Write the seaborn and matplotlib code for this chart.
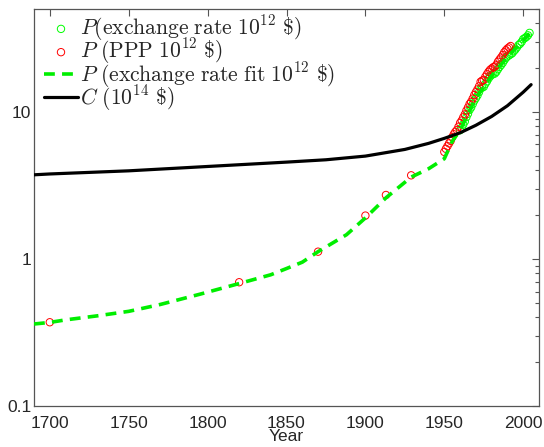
import numpy as np
import pandas as pd
import matplotlib
matplotlib.use("Agg")
import matplotlib.pyplot as plt
import seaborn as sns
from matplotlib.ticker import FixedLocator, LogLocator, NullFormatter

# --- data -------------------------------------------------------------
# Historical output, PPP (10^12 $)
ppp_hist_years = [1700, 1820, 1870, 1900, 1913, 1929]
ppp_hist_vals = [0.371, 0.694, 1.12, 1.97, 2.72, 3.70]

# Annual output, PPP (10^12 $)
ppp_years = list(range(1950, 1993))
ppp_vals = [5.34, 5.60, 5.84, 6.10, 6.34, 6.72, 7.04, 7.32, 7.52, 7.92,
            8.40, 8.72, 9.17, 9.60, 10.2, 10.7, 11.3, 11.7, 12.3, 13.0,
            13.6, 14.2, 14.9, 16.0, 16.3, 16.5, 17.3, 18.0, 18.7, 19.3,
            19.7, 20.1, 20.3, 20.9, 21.9, 22.7, 23.4, 24.3, 25.4, 26.2,
            26.9, 27.4, 28.0]

# Annual output at exchange rates (10^12 $)
er_years = list(range(1960, 2005))
er_vals = [7.5, 7.8, 8.2, 8.6, 9.2, 9.7, 10.3, 10.7, 11.3, 11.9,
           12.4, 12.9, 13.6, 14.4, 14.6, 14.8, 15.5, 16.1, 16.8, 17.4,
           17.8, 18.1, 18.2, 18.7, 19.5, 20.2, 20.8, 21.5, 22.4, 23.2,
           23.8, 24.2, 24.6, 25.0, 25.8, 26.5, 27.4, 28.4, 29.0, 29.9,
           31.2, 31.7, 32.3, 33.1, 34.4]

# Exchange-rate fit (10^12 $)
fit_years = [1690, 1700, 1710, 1730, 1750, 1770, 1795, 1820, 1840, 1850,
             1860, 1870, 1888, 1900, 1913, 1929, 1940, 1950, 1955, 1960,
             1970, 1980, 1990, 2000, 2004]
fit_vals = [0.361, 0.37, 0.385, 0.41, 0.44, 0.49, 0.575, 0.68, 0.78, 0.86,
            0.95, 1.12, 1.46, 1.90, 2.60, 3.60, 4.10, 4.80, 6.30, 7.50,
            12.4, 17.6, 23.6, 30.8, 34.0]

# Capital stock C (10^14 $)
cap_years = [1690, 1700, 1750, 1800, 1850, 1875, 1900, 1925, 1940, 1950,
             1960, 1970, 1980, 1990, 2000, 2005]
cap_vals = [3.73, 3.78, 3.97, 4.25, 4.55, 4.72, 5.0, 5.55, 6.1, 6.6,
            7.2, 8.1, 9.3, 11.0, 13.6, 15.3]

x_ticks = [1700, 1750, 1800, 1850, 1900, 1950, 2000]
y_ticks = [0.1, 1, 10]
y_tick_labels = ["0.1", "1", "10"]

lbl_er = r"$P\mathrm{(exchange\ rate\ }10^{12}\mathrm{\ \$)}$"
lbl_ppp = r"$P\mathrm{\ (PPP\ }10^{12}\mathrm{\ \$)}$"
lbl_fit = r"$P\mathrm{\ (exchange\ rate\ fit\ }10^{12}\mathrm{\ \$)}$"
lbl_cap = r"$C\mathrm{\ (}10^{14}\mathrm{\ \$)}$"

# --- figure -----------------------------------------------------------
sns.set_style("white")
plt.rcParams["font.family"] = ["Liberation Sans", "DejaVu Sans"]
plt.rcParams["mathtext.fontset"] = "cm"

fig = plt.figure(figsize=(5.44, 4.47), dpi=100)
ax = fig.add_axes([34 / 544, (447 - 406) / 447, (539 - 34) / 544, (406 - 9) / 447])

er_df = pd.DataFrame({"year": er_years, "val": er_vals})
ppp_df = pd.DataFrame({"year": ppp_hist_years + ppp_years,
                       "val": ppp_hist_vals + ppp_vals})
fit_df = pd.DataFrame({"year": fit_years, "val": fit_vals})
cap_df = pd.DataFrame({"year": cap_years, "val": cap_vals})

sns.scatterplot(data=er_df, x="year", y="val", ax=ax, marker="o", s=28,
                facecolors="none", edgecolor="#00ff00", linewidth=0.7,
                label=lbl_er, zorder=3)
sns.scatterplot(data=ppp_df, x="year", y="val", ax=ax, marker="o", s=28,
                facecolors="none", edgecolor="#ff0000", linewidth=0.7,
                label=lbl_ppp, zorder=3)
sns.lineplot(data=fit_df, x="year", y="val", ax=ax, color="#00ee00",
             linewidth=2.6, dashes=False, label=lbl_fit, zorder=4)
ax.lines[-1].set_dashes((3.0, 2.0))
sns.lineplot(data=cap_df, x="year", y="val", ax=ax, color="black",
             linewidth=2.3, label=lbl_cap, zorder=5)

ax.set_yscale("log")
ax.set_xlim(1690, 2010)
ax.set_ylim(0.1, 50)
ax.set_xticks(x_ticks)
ax.set_xticklabels([str(t) for t in x_ticks])
ax.yaxis.set_major_locator(FixedLocator(y_ticks))
ax.set_yticklabels(y_tick_labels)
ax.yaxis.set_minor_locator(LogLocator(base=10, subs=np.arange(2, 10)))
ax.yaxis.set_minor_formatter(NullFormatter())

ax.tick_params(axis="both", which="both", direction="in", top=True, right=True,
               color="#555555", labelsize=12.5)
ax.tick_params(axis="x", which="major", pad=7)
ax.tick_params(axis="y", which="major", pad=2)
ax.tick_params(axis="both", which="major", length=5, width=0.8)
ax.tick_params(axis="y", which="minor", length=3, width=0.8)
for sp in ax.spines.values():
    sp.set_color("#555555")
    sp.set_linewidth(0.9)

ax.set_xlabel("Year", fontsize=12.5, labelpad=-1)
ax.set_ylabel("")

leg = ax.legend(loc="upper left", bbox_to_anchor=(6 / 505, 1.0),
                frameon=False, fontsize=15.5,
                handlelength=1.55, handletextpad=0.12, labelspacing=-0.3,
                borderaxespad=0.1, borderpad=0.1, markerscale=1.0)

fig.savefig("out.png", dpi=100)
